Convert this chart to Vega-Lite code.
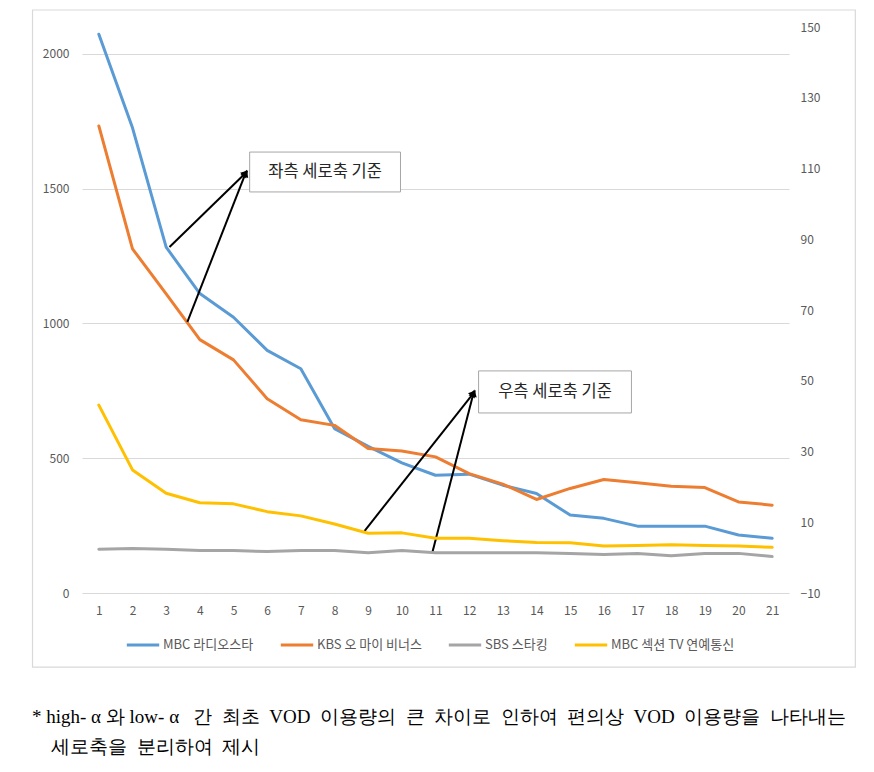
{
  "$schema": "https://vega.github.io/schema/vega-lite/v6.json",
  "autosize": {"type": "none"},
  "width": 707,
  "height": 566,
  "padding": {"left": 82, "top": 27, "right": 85, "bottom": 179},
  "background": "white",
  "config": {"view": {"stroke": null}, "font": "Noto Sans CJK KR"},
  "datasets": {
    "primary": [
      {"ep": 1, "program": "MBC 라디오스타", "v": 2073},
      {"ep": 2, "program": "MBC 라디오스타", "v": 1726},
      {"ep": 3, "program": "MBC 라디오스타", "v": 1283},
      {"ep": 4, "program": "MBC 라디오스타", "v": 1111},
      {"ep": 5, "program": "MBC 라디오스타", "v": 1023},
      {"ep": 6, "program": "MBC 라디오스타", "v": 900},
      {"ep": 7, "program": "MBC 라디오스타", "v": 832},
      {"ep": 8, "program": "MBC 라디오스타", "v": 610},
      {"ep": 9, "program": "MBC 라디오스타", "v": 544},
      {"ep": 10, "program": "MBC 라디오스타", "v": 483},
      {"ep": 11, "program": "MBC 라디오스타", "v": 437},
      {"ep": 12, "program": "MBC 라디오스타", "v": 441},
      {"ep": 13, "program": "MBC 라디오스타", "v": 400},
      {"ep": 14, "program": "MBC 라디오스타", "v": 369},
      {"ep": 15, "program": "MBC 라디오스타", "v": 289},
      {"ep": 16, "program": "MBC 라디오스타", "v": 277},
      {"ep": 17, "program": "MBC 라디오스타", "v": 248},
      {"ep": 18, "program": "MBC 라디오스타", "v": 248},
      {"ep": 19, "program": "MBC 라디오스타", "v": 248},
      {"ep": 20, "program": "MBC 라디오스타", "v": 215},
      {"ep": 21, "program": "MBC 라디오스타", "v": 203},
      {"ep": 1, "program": "KBS 오 마이 비너스", "v": 1733},
      {"ep": 2, "program": "KBS 오 마이 비너스", "v": 1277},
      {"ep": 3, "program": "KBS 오 마이 비너스", "v": 1110},
      {"ep": 4, "program": "KBS 오 마이 비너스", "v": 940},
      {"ep": 5, "program": "KBS 오 마이 비너스", "v": 865},
      {"ep": 6, "program": "KBS 오 마이 비너스", "v": 721},
      {"ep": 7, "program": "KBS 오 마이 비너스", "v": 643},
      {"ep": 8, "program": "KBS 오 마이 비너스", "v": 622},
      {"ep": 9, "program": "KBS 오 마이 비너스", "v": 536},
      {"ep": 10, "program": "KBS 오 마이 비너스", "v": 527},
      {"ep": 11, "program": "KBS 오 마이 비너스", "v": 505},
      {"ep": 12, "program": "KBS 오 마이 비너스", "v": 443},
      {"ep": 13, "program": "KBS 오 마이 비너스", "v": 404},
      {"ep": 14, "program": "KBS 오 마이 비너스", "v": 347},
      {"ep": 15, "program": "KBS 오 마이 비너스", "v": 388},
      {"ep": 16, "program": "KBS 오 마이 비너스", "v": 421},
      {"ep": 17, "program": "KBS 오 마이 비너스", "v": 409},
      {"ep": 18, "program": "KBS 오 마이 비너스", "v": 396},
      {"ep": 19, "program": "KBS 오 마이 비너스", "v": 391},
      {"ep": 20, "program": "KBS 오 마이 비너스", "v": 338},
      {"ep": 21, "program": "KBS 오 마이 비너스", "v": 326}
    ],
    "secondary": [
      {"ep": 1, "program": "SBS 스타킹", "v": 2.35},
      {"ep": 2, "program": "SBS 스타킹", "v": 2.6},
      {"ep": 3, "program": "SBS 스타킹", "v": 2.35},
      {"ep": 4, "program": "SBS 스타킹", "v": 2.0},
      {"ep": 5, "program": "SBS 스타킹", "v": 2.0},
      {"ep": 6, "program": "SBS 스타킹", "v": 1.7},
      {"ep": 7, "program": "SBS 스타킹", "v": 2.0},
      {"ep": 8, "program": "SBS 스타킹", "v": 2.0},
      {"ep": 9, "program": "SBS 스타킹", "v": 1.4},
      {"ep": 10, "program": "SBS 스타킹", "v": 2.0},
      {"ep": 11, "program": "SBS 스타킹", "v": 1.4},
      {"ep": 12, "program": "SBS 스타킹", "v": 1.4},
      {"ep": 13, "program": "SBS 스타킹", "v": 1.4},
      {"ep": 14, "program": "SBS 스타킹", "v": 1.4},
      {"ep": 15, "program": "SBS 스타킹", "v": 1.2},
      {"ep": 16, "program": "SBS 스타킹", "v": 0.9},
      {"ep": 17, "program": "SBS 스타킹", "v": 1.2},
      {"ep": 18, "program": "SBS 스타킹", "v": 0.5},
      {"ep": 19, "program": "SBS 스타킹", "v": 1.2},
      {"ep": 20, "program": "SBS 스타킹", "v": 1.2},
      {"ep": 21, "program": "SBS 스타킹", "v": 0.3},
      {"ep": 1, "program": "MBC 섹션 TV 연예통신", "v": 43.1},
      {"ep": 2, "program": "MBC 섹션 TV 연예통신", "v": 24.8},
      {"ep": 3, "program": "MBC 섹션 TV 연예통신", "v": 18.2},
      {"ep": 4, "program": "MBC 섹션 TV 연예통신", "v": 15.5},
      {"ep": 5, "program": "MBC 섹션 TV 연예통신", "v": 15.2},
      {"ep": 6, "program": "MBC 섹션 TV 연예통신", "v": 13.0},
      {"ep": 7, "program": "MBC 섹션 TV 연예통신", "v": 11.8},
      {"ep": 8, "program": "MBC 섹션 TV 연예통신", "v": 9.5},
      {"ep": 9, "program": "MBC 섹션 TV 연예통신", "v": 6.9},
      {"ep": 10, "program": "MBC 섹션 TV 연예통신", "v": 7.0},
      {"ep": 11, "program": "MBC 섹션 TV 연예통신", "v": 5.5},
      {"ep": 12, "program": "MBC 섹션 TV 연예통신", "v": 5.5},
      {"ep": 13, "program": "MBC 섹션 TV 연예통신", "v": 4.8},
      {"ep": 14, "program": "MBC 섹션 TV 연예통신", "v": 4.3},
      {"ep": 15, "program": "MBC 섹션 TV 연예통신", "v": 4.2},
      {"ep": 16, "program": "MBC 섹션 TV 연예통신", "v": 3.3},
      {"ep": 17, "program": "MBC 섹션 TV 연예통신", "v": 3.4},
      {"ep": 18, "program": "MBC 섹션 TV 연예통신", "v": 3.65},
      {"ep": 19, "program": "MBC 섹션 TV 연예통신", "v": 3.4},
      {"ep": 20, "program": "MBC 섹션 TV 연예통신", "v": 3.3},
      {"ep": 21, "program": "MBC 섹션 TV 연예통신", "v": 2.9}
    ],
    "arrows": [
      {"id": "a1", "xs": 3.10, "ys": 1284, "xe": 5.36, "ye": 1558},
      {"id": "a2", "xs": 3.63, "ys": 1006, "xe": 5.36, "ye": 1558},
      {"id": "a3", "xs": 8.89, "ys": 230, "xe": 12.13, "ye": 742},
      {"id": "a4", "xs": 10.91, "ys": 152, "xe": 12.13, "ye": 742}
    ],
    "notes": [
      {"label": "좌측 세로축 기준", "xc": 7.72, "yc": 1562, "x1": 5.48, "x2": 9.96, "y1": 1488, "y2": 1636},
      {"label": "우측 세로축 기준", "xc": 14.55, "yc": 746, "x1": 12.28, "x2": 16.82, "y1": 668, "y2": 824}
    ]
  },
  "title": {
    "text": ["* high-\u00a0α\u00a0와 low-\u00a0α\u00a0\u00a0\u00a0간\u00a0\u00a0최초\u00a0\u00a0VOD\u00a0\u00a0이용량의\u00a0\u00a0큰\u00a0\u00a0차이로\u00a0\u00a0인하여\u00a0\u00a0편의상\u00a0\u00a0VOD\u00a0\u00a0이용량을\u00a0\u00a0나타내는", "\u200b\u00a0\u00a0\u00a0\u00a0세로축을\u00a0\u00a0분리하여\u00a0\u00a0제시"],
    "orient": "bottom",
    "anchor": "start",
    "frame": "group",
    "offset": 40,
    "dx": -50,
    "font": "Liberation Serif",
    "fontSize": 19,
    "fontWeight": "normal",
    "color": "#000000",
    "lineHeight": 30,
    "baseline": "top"
  },
  "layer": [
    {
      "layer": [
        {
          "data": {"values": [{}]},
          "mark": {"type": "rect", "fill": null, "stroke": "#D9D9D9", "strokeWidth": 1.2, "clip": false},
          "encoding": {
            "x": {"datum": -0.97, "type": "quantitative", "title": null, "scale": {"domain": [0.5, 21.5], "nice": false, "zero": false}},
            "x2": {"datum": 23.47},
            "y": {"datum": 2163, "type": "quantitative", "title": null, "scale": {"domain": [0, 2100], "nice": false, "zero": false}},
            "y2": {"datum": -275}
          }
        },
        {
          "data": {"name": "primary"},
          "mark": {"type": "line", "strokeWidth": 3, "strokeJoin": "round", "strokeCap": "round"},
          "encoding": {
            "x": {"field": "ep", "type": "quantitative", "title": null,
                  "scale": {"domain": [0.5, 21.5], "nice": false, "zero": false},
                  "axis": {"values": [1,2,3,4,5,6,7,8,9,10,11,12,13,14,15,16,17,18,19,20,21], "tickCount": 30, "format": "d", "labelOverlap": false, "grid": false, "domain": false, "ticks": false, "tickSize": 0, "labelPadding": 12, "labelFontSize": 12, "labelColor": "#595959", "labelFlush": false}},
            "y": {"field": "v", "type": "quantitative", "title": null,
                  "scale": {"domain": [0, 2100], "nice": false, "zero": false},
                  "axis": {"orient": "left", "values": [0, 500, 1000, 1500, 2000], "format": "d", "labelOverlap": false, "grid": true, "gridColor": "#D9D9D9", "gridWidth": 1, "domain": false, "ticks": false, "tickSize": 0, "labelPadding": 13, "labelFontSize": 12, "labelColor": "#595959"}},
            "color": {"field": "program", "type": "nominal", "title": null,
                      "scale": {"domain": ["MBC 라디오스타", "KBS 오 마이 비너스", "SBS 스타킹", "MBC 섹션 TV 연예통신"], "range": ["#5B9BD5", "#ED7D31", "#A5A5A5", "#FFC000"]},
                      "legend": {"orient": "none", "legendX": 43, "legendY": 600, "direction": "horizontal", "columns": 4, "symbolType": "stroke", "symbolSize": 1050, "symbolStrokeWidth": 3, "labelFontSize": 13, "labelColor": "#595959", "columnPadding": 20, "labelOffset": 2, "padding": 0, "title": null}}
          }
        },
        {
          "data": {"name": "arrows"},
          "mark": {"type": "rule", "color": "#000000", "strokeWidth": 2},
          "encoding": {
            "x": {"field": "xs", "type": "quantitative", "title": null, "scale": {"domain": [0.5, 21.5], "nice": false, "zero": false}},
            "y": {"field": "ys", "type": "quantitative", "title": null, "scale": {"domain": [0, 2100], "nice": false, "zero": false}},
            "x2": {"field": "xe"},
            "y2": {"field": "ye"}
          }
        },
        {
          "data": {"name": "arrows"},
          "transform": [{"filter": "datum.id == 'a1'"}],
          "mark": {"type": "point", "shape": "triangle-up", "filled": true, "color": "#000000", "opacity": 1, "size": 70, "angle": 44},
          "encoding": {
            "x": {"field": "xe", "type": "quantitative", "title": null, "scale": {"domain": [0.5, 21.5], "nice": false, "zero": false}},
            "y": {"field": "ye", "type": "quantitative", "title": null, "scale": {"domain": [0, 2100], "nice": false, "zero": false}}
          }
        },
        {
          "data": {"name": "arrows"},
          "transform": [{"filter": "datum.id == 'a2'"}],
          "mark": {"type": "point", "shape": "triangle-up", "filled": true, "color": "#000000", "opacity": 1, "size": 70, "angle": 21},
          "encoding": {
            "x": {"field": "xe", "type": "quantitative", "title": null, "scale": {"domain": [0.5, 21.5], "nice": false, "zero": false}},
            "y": {"field": "ye", "type": "quantitative", "title": null, "scale": {"domain": [0, 2100], "nice": false, "zero": false}}
          }
        },
        {
          "data": {"name": "arrows"},
          "transform": [{"filter": "datum.id == 'a3'"}],
          "mark": {"type": "point", "shape": "triangle-up", "filled": true, "color": "#000000", "opacity": 1, "size": 70, "angle": 38},
          "encoding": {
            "x": {"field": "xe", "type": "quantitative", "title": null, "scale": {"domain": [0.5, 21.5], "nice": false, "zero": false}},
            "y": {"field": "ye", "type": "quantitative", "title": null, "scale": {"domain": [0, 2100], "nice": false, "zero": false}}
          }
        },
        {
          "data": {"name": "arrows"},
          "transform": [{"filter": "datum.id == 'a4'"}],
          "mark": {"type": "point", "shape": "triangle-up", "filled": true, "color": "#000000", "opacity": 1, "size": 70, "angle": 14.5},
          "encoding": {
            "x": {"field": "xe", "type": "quantitative", "title": null, "scale": {"domain": [0.5, 21.5], "nice": false, "zero": false}},
            "y": {"field": "ye", "type": "quantitative", "title": null, "scale": {"domain": [0, 2100], "nice": false, "zero": false}}
          }
        },
        {
          "data": {"name": "notes"},
          "mark": {"type": "rect", "fill": "#FFFFFF", "stroke": "#A6A6A6", "strokeWidth": 1},
          "encoding": {
            "x": {"field": "x1", "type": "quantitative", "title": null, "scale": {"domain": [0.5, 21.5], "nice": false, "zero": false}},
            "x2": {"field": "x2"},
            "y": {"field": "y1", "type": "quantitative", "title": null, "scale": {"domain": [0, 2100], "nice": false, "zero": false}},
            "y2": {"field": "y2"}
          }
        },
        {
          "data": {"name": "notes"},
          "mark": {"type": "text", "fontSize": 16.5, "color": "#262626", "font": "Noto Sans CJK KR", "align": "center", "baseline": "middle"},
          "encoding": {
            "x": {"field": "xc", "type": "quantitative", "title": null, "scale": {"domain": [0.5, 21.5], "nice": false, "zero": false}},
            "y": {"field": "yc", "type": "quantitative", "title": null, "scale": {"domain": [0, 2100], "nice": false, "zero": false}},
            "text": {"field": "label"}
          }
        }
      ]
    },
    {
      "data": {"name": "secondary"},
      "mark": {"type": "line", "strokeWidth": 3, "strokeJoin": "round", "strokeCap": "round"},
      "encoding": {
        "x": {"field": "ep", "type": "quantitative", "title": null, "scale": {"domain": [0.5, 21.5], "nice": false, "zero": false},
              "axis": {"values": [1,2,3,4,5,6,7,8,9,10,11,12,13,14,15,16,17,18,19,20,21], "tickCount": 30, "format": "d", "labelOverlap": false, "grid": false, "domain": false, "ticks": false, "tickSize": 0, "labelPadding": 12, "labelFontSize": 12, "labelColor": "#595959", "labelFlush": false}},
        "y": {"field": "v", "type": "quantitative", "title": null,
              "scale": {"domain": [-10, 150], "nice": false, "zero": false},
              "axis": {"orient": "right", "values": [-10, 10, 30, 50, 70, 90, 110, 130, 150], "format": "d", "labelOverlap": false, "grid": false, "domain": false, "ticks": false, "tickSize": 0, "labelPadding": 11, "labelFontSize": 12, "labelColor": "#595959"}},
        "color": {"field": "program", "type": "nominal", "title": null,
                  "scale": {"domain": ["MBC 라디오스타", "KBS 오 마이 비너스", "SBS 스타킹", "MBC 섹션 TV 연예통신"], "range": ["#5B9BD5", "#ED7D31", "#A5A5A5", "#FFC000"]},
                  "legend": {"orient": "none", "legendX": 43, "legendY": 600, "direction": "horizontal", "columns": 4, "symbolType": "stroke", "symbolSize": 1050, "symbolStrokeWidth": 3, "labelFontSize": 13, "labelColor": "#595959", "columnPadding": 20, "labelOffset": 2, "padding": 0, "title": null}}
      }
    }
  ],
  "resolve": {"scale": {"y": "independent"}}
}
